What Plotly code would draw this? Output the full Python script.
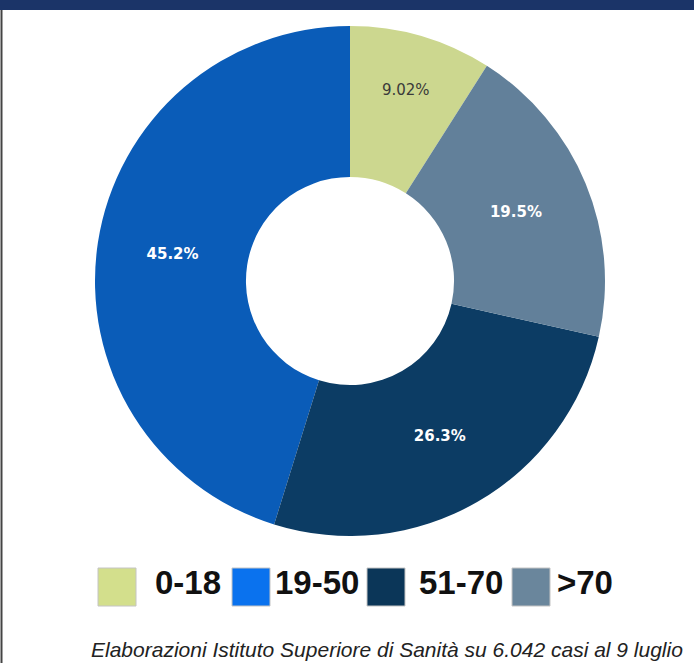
import plotly.graph_objects as go

categories = ["0-18", "19-50", "51-70", ">70"]
values = [9.02, 45.2, 26.3, 19.5]
slice_colors = ["#CCD78F", "#0A5CB8", "#0C3C64", "#62809A"]
legend_colors = ["#D3DF8C", "#0A72EE", "#0B3658", "#6A869C"]
text_colors = ["#3a3a3a", "white", "white", "white"]
caption = "Elaborazioni Istituto Superiore di Sanità su 6.042 casi al 9 luglio"

W, H = 694, 663

def px(x):
    return x / W

def py(y):
    return 1 - y / H

cx, cy, r = 350, 281, 255

fig = go.Figure()
fig.add_trace(go.Pie(
    labels=categories,
    values=values,
    hole=0.408,
    sort=False,
    direction="counterclockwise",
    rotation=0,
    marker=dict(colors=slice_colors, line=dict(width=0)),
    texttemplate="%{value}%",
    textposition="inside",
    insidetextorientation="horizontal",
    textfont=dict(family="DejaVu Sans", size=[15, 15, 15, 15], color=text_colors,
                  weight=["normal", "bold", "bold", "bold"]),
    domain=dict(x=[px(cx - r), px(cx + r)], y=[py(cy + r), py(cy - r)]),
    showlegend=False,
    hoverinfo="label+percent",
))

shapes = []
annotations = []
# header bar
shapes.append(dict(type="rect", xref="paper", yref="paper", x0=0, x1=1,
                   y0=py(10), y1=1, fillcolor="#1B3468", line=dict(width=0), layer="above"))
# left border
shapes.append(dict(type="line", xref="paper", yref="paper", x0=px(1.5), x1=px(1.5),
                   y0=0, y1=py(10), line=dict(color="#444444", width=2)))

# custom legend
sw_x = [98, 232, 367, 512]
tx_x = [153, 273, 417, 555]
sw_size = 38
sw_top = 568
for i, cat in enumerate(categories):
    shapes.append(dict(type="rect", xref="paper", yref="paper",
                       x0=px(sw_x[i]), x1=px(sw_x[i] + sw_size),
                       y0=py(sw_top + sw_size), y1=py(sw_top),
                       fillcolor=legend_colors[i], line=dict(color="#C4C4C4", width=1)))
    annotations.append(dict(xref="paper", yref="paper", x=px(tx_x[i]), y=py(sw_top + 14),
                            xanchor="left", yanchor="middle", showarrow=False,
                            text="<b>%s</b>" % cat,
                            font=dict(family="Liberation Sans", size=33, color="#111111")))

annotations.append(dict(xref="paper", yref="paper", x=px(89), y=py(649),
                        xanchor="left", yanchor="middle", showarrow=False,
                        text="<i>%s</i>" % caption,
                        font=dict(family="Liberation Sans", size=21, color="#222222")))

fig.update_layout(
    width=W, height=H,
    margin=dict(l=0, r=0, t=0, b=0),
    paper_bgcolor="white",
    plot_bgcolor="white",
    shapes=shapes,
    annotations=annotations,
)

fig.write_html("out.html", config={"displayModeBar": False},
               post_script="document.body.style.margin='0';document.body.style.overflow='hidden';")
